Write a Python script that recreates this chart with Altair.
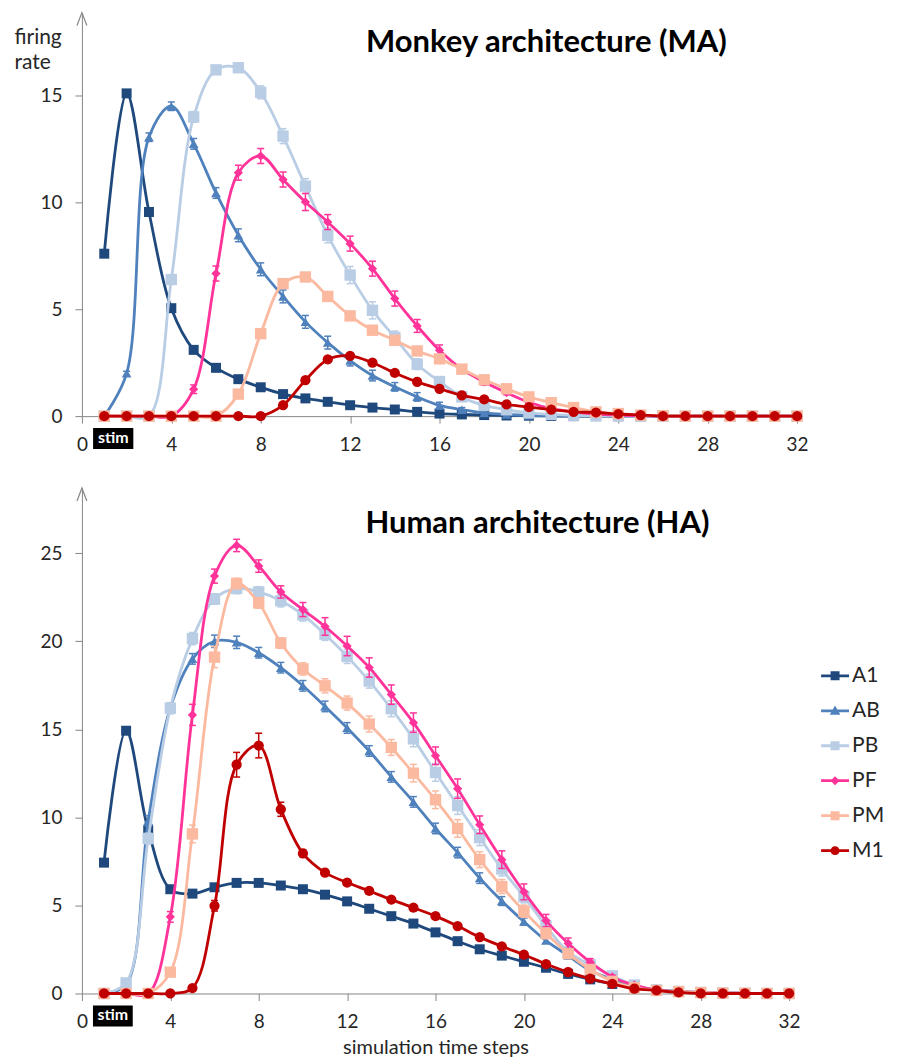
import altair as alt
import pandas as pd

# ---------------- data ----------------
steps = [1, 2, 3, 4, 5, 6, 7, 8, 9, 10, 11, 12, 13, 14, 15, 16,
         17, 18, 19, 20, 21, 22, 23, 24, 25, 26, 27, 28, 29, 30, 31, 32]
series_names = ["A1", "AB", "PB", "PF", "PM", "M1"]
series_colors = ["#1F497D", "#4F81BD", "#B9CDE5", "#FF3399", "#FBB9A0", "#C00000"]
marker_shapes = ["square", "triangle-up", "square", "diamond", "square", "circle"]
marker_sizes = [100, 95, 130, 85, 130, 105]

# Monkey architecture (MA)
ma_A1 = [7.6, 15.1, 9.55, 5.05, 3.1, 2.26, 1.73, 1.35, 1.03, 0.83, 0.67, 0.51, 0.4, 0.31, 0.2, 0.12,
         0.08, 0.05, 0.03, 0.02, 0.01, 0, 0, 0, 0, 0, 0, 0, 0, 0, 0, 0]
ma_AB = [0, 2.0, 13.05, 14.5, 12.74, 10.44, 8.46, 6.87, 5.6, 4.41, 3.44, 2.6, 1.9, 1.37, 0.9, 0.5,
         0.3, 0.15, 0.08, 0.04, 0.02, 0.01, 0, 0, 0, 0, 0, 0, 0, 0, 0, 0]
ma_PB = [0, 0, 0, 6.39, 14.0, 16.2, 16.3, 15.15, 13.1, 10.76, 8.46, 6.6, 4.95, 3.68, 2.43, 1.62,
         0.9, 0.5, 0.3, 0.15, 0.08, 0.04, 0.02, 0.01, 0, 0, 0, 0, 0, 0, 0, 0]
ma_PF = [0, 0, 0, 0, 1.26, 6.67, 11.39, 12.17, 11.07, 10.02, 9.08, 8.07, 6.9, 5.5, 4.22, 3.08,
         2.2, 1.6, 1.1, 0.65, 0.35, 0.2, 0.1, 0.05, 0.02, 0, 0, 0, 0, 0, 0, 0]
ma_PM = [0, 0, 0, 0, 0, 0, 1.03, 3.86, 6.2, 6.51, 5.6, 4.69, 4.02, 3.55, 3.05, 2.68,
         2.2, 1.7, 1.28, 0.9, 0.63, 0.4, 0.2, 0.12, 0.05, 0.02, 0, 0, 0, 0, 0, 0]
ma_M1 = [0, 0, 0, 0, 0, 0, 0, 0, 0.51, 1.68, 2.65, 2.82, 2.5, 2.02, 1.6, 1.28,
         0.97, 0.78, 0.55, 0.42, 0.3, 0.2, 0.17, 0.1, 0.05, 0, 0, 0, 0, 0, 0, 0]

ma_A1_err = [0.15, 0.15, 0.15, 0.12, 0.1, 0.1, 0.08, 0.08, 0.06, 0.06, 0.05, 0.05, 0.04, 0.04, 0.03, 0.03,
             0.02, 0.02, 0.01, 0.01, 0, 0, 0, 0, 0, 0, 0, 0, 0, 0, 0, 0]
ma_AB_err = [0, 0.1, 0.2, 0.2, 0.25, 0.25, 0.3, 0.3, 0.3, 0.3, 0.3, 0.25, 0.25, 0.2, 0.2, 0.15,
             0.1, 0.1, 0.05, 0.05, 0, 0, 0, 0, 0, 0, 0, 0, 0, 0, 0, 0]
ma_PB_err = [0, 0, 0, 0.2, 0.25, 0.2, 0.2, 0.3, 0.35, 0.35, 0.35, 0.4, 0.4, 0.3, 0.25, 0.2,
             0.15, 0.1, 0.08, 0.05, 0, 0, 0, 0, 0, 0, 0, 0, 0, 0, 0, 0]
ma_PF_err = [0, 0, 0, 0, 0.2, 0.35, 0.35, 0.35, 0.35, 0.4, 0.35, 0.35, 0.35, 0.35, 0.3, 0.25,
             0.2, 0.15, 0.1, 0.08, 0, 0, 0, 0, 0, 0, 0, 0, 0, 0, 0, 0]
ma_PM_err = [0, 0, 0, 0, 0, 0, 0.1, 0.15, 0.15, 0.15, 0.15, 0.15, 0.15, 0.15, 0.15, 0.12,
             0.1, 0.1, 0.08, 0.06, 0, 0, 0, 0, 0, 0, 0, 0, 0, 0, 0, 0]
ma_M1_err = [0, 0, 0, 0, 0, 0, 0, 0, 0.05, 0.1, 0.1, 0.1, 0.1, 0.1, 0.08, 0.08,
             0.06, 0.05, 0.04, 0.03, 0, 0, 0, 0, 0, 0, 0, 0, 0, 0, 0, 0]

# Human architecture (HA)
ha_A1 = [7.43, 14.92, 9.27, 5.92, 5.67, 6.03, 6.28, 6.28, 6.13, 5.92, 5.61, 5.23, 4.81, 4.39, 3.97, 3.47,
         2.97, 2.51, 2.15, 1.8, 1.46, 1.11, 0.8, 0.54, 0.33, 0.2, 0.12, 0.06, 0.03, 0.01, 0, 0]
ha_AB = [0, 0.5, 9.8, 16.2, 19.0, 20.0, 19.94, 19.35, 18.5, 17.47, 16.3, 15.08, 13.77, 12.3, 10.88, 9.37,
         8.0, 6.55, 5.25, 4.08, 3.0, 2.15, 1.3, 0.8, 0.38, 0.2, 0.1, 0.05, 0.02, 0.01, 0, 0]
ha_PB = [0, 0.6, 8.8, 16.2, 20.15, 22.4, 23.0, 22.8, 22.3, 21.5, 20.4, 19.14, 17.74, 16.17, 14.46, 12.55,
         10.67, 8.85, 7.07, 5.5, 3.83, 2.36, 1.63, 1.0, 0.48, 0.2, 0.12, 0.06, 0.03, 0.01, 0, 0]
ha_PF = [0, 0, 0, 4.35, 15.82, 23.7, 25.44, 24.27, 22.8, 21.8, 20.84, 19.73, 18.51, 16.97, 15.38, 13.5,
         11.63, 9.58, 7.6, 5.77, 4.14, 2.85, 1.78, 0.94, 0.48, 0.2, 0.1, 0.05, 0.02, 0.01, 0, 0]
ha_PM = [0, 0, 0, 1.21, 9.06, 19.1, 23.28, 22.18, 19.9, 18.43, 17.47, 16.49, 15.3, 13.97, 12.51, 11.0,
         9.37, 7.6, 6.07, 4.67, 3.41, 2.26, 1.36, 0.69, 0.33, 0.17, 0.1, 0.05, 0.02, 0.01, 0, 0]
ha_M1 = [0, 0, 0, 0, 0.31, 4.98, 12.99, 14.08, 10.46, 7.95, 6.86, 6.3, 5.82, 5.33, 4.87, 4.39,
         3.83, 3.2, 2.68, 2.2, 1.67, 1.21, 0.84, 0.54, 0.27, 0.17, 0.06, 0, 0, 0, 0, 0]

ha_A1_err = [0.15, 0.2, 0.2, 0.15, 0.15, 0.15, 0.15, 0.15, 0.15, 0.15, 0.15, 0.15, 0.15, 0.15, 0.12, 0.12,
             0.1, 0.1, 0.1, 0.08, 0.08, 0.06, 0.05, 0.04, 0.03, 0.02, 0.01, 0, 0, 0, 0, 0]
ha_AB_err = [0, 0.1, 0.3, 0.3, 0.3, 0.35, 0.35, 0.3, 0.3, 0.3, 0.3, 0.3, 0.3, 0.3, 0.3, 0.3,
             0.3, 0.3, 0.25, 0.2, 0.15, 0.1, 0.08, 0.05, 0.03, 0.02, 0, 0, 0, 0, 0, 0]
ha_PB_err = [0, 0.1, 0.3, 0.3, 0.35, 0.3, 0.3, 0.3, 0.35, 0.35, 0.35, 0.4, 0.4, 0.45, 0.45, 0.5,
             0.5, 0.45, 0.4, 0.35, 0.3, 0.25, 0.2, 0.1, 0.05, 0.03, 0, 0, 0, 0, 0, 0]
ha_PF_err = [0, 0, 0, 0.3, 0.6, 0.4, 0.35, 0.35, 0.35, 0.4, 0.5, 0.55, 0.55, 0.55, 0.55, 0.5,
             0.55, 0.5, 0.5, 0.45, 0.35, 0.3, 0.2, 0.1, 0.05, 0.03, 0, 0, 0, 0, 0, 0]
ha_PM_err = [0, 0, 0, 0.2, 0.5, 0.6, 0.3, 0.3, 0.3, 0.35, 0.4, 0.4, 0.45, 0.45, 0.5, 0.5,
             0.5, 0.45, 0.4, 0.35, 0.3, 0.2, 0.15, 0.1, 0.05, 0.03, 0, 0, 0, 0, 0, 0]
ha_M1_err = [0, 0, 0, 0, 0.1, 0.3, 0.7, 0.7, 0.4, 0.2, 0.15, 0.15, 0.15, 0.15, 0.1, 0.1,
             0.1, 0.1, 0.08, 0.06, 0.05, 0.04, 0.03, 0.02, 0.01, 0, 0, 0, 0, 0, 0, 0]

x_ticks = [0, 4, 8, 12, 16, 20, 24, 28, 32]
ma_y_ticks = [0, 5, 10, 15]
ha_y_ticks = [0, 5, 10, 15, 20, 25]
stim_start = [0.5]
stim_end = [2.3]
stim_label = ["stim"]

titles = ["Monkey architecture (MA)", "Human architecture (HA)"]
y_title = ["firing", "rate"]
x_title = "simulation time steps"

# legend symbols: line segment + marker (custom paths)
legend_paths = [
    "M-1,-0.1H1V0.1H-1Z M-0.32,-0.32H0.32V0.32H-0.32Z",
    "M-1,-0.1H1V0.1H-1Z M0,-0.38L0.38,0.28L-0.38,0.28Z",
    "M-1,-0.1H1V0.1H-1Z M-0.32,-0.32H0.32V0.32H-0.32Z",
    "M-1,-0.1H1V0.1H-1Z M0,-0.32L0.32,0L0,0.32L-0.32,0Z",
    "M-1,-0.1H1V0.1H-1Z M-0.32,-0.32H0.32V0.32H-0.32Z",
    "M-1,-0.1H1V0.1H-1Z M-0.32,0A0.32,0.32 0 1,1 0.32,0A0.32,0.32 0 1,1 -0.32,0Z",
]

FONT = "Lato"
AXIS_GRAY = "#868686"
TEXT = "#262626"


def panel(vals, errs, width, height, ymax, yticks, title_text, title_x, title_y,
          show_ytitle, show_xtitle, show_legend):
    xscale = alt.Scale(domain=[0, 32], nice=False, zero=False)
    yscale = alt.Scale(domain=[0, ymax], nice=False)
    layers = []

    yaxis_kw = dict(values=yticks, grid=False, domainColor=AXIS_GRAY, tickColor=AXIS_GRAY,
                    tickSize=7, labelFontSize=19, labelPadding=13, labelColor=TEXT,
                    labelFont=FONT, labelFlush=False)
    if show_ytitle:
        yaxis = alt.Axis(title=y_title, titleAngle=0, titleAlign="left",
                         titleBaseline="alphabetic", titleX=-68, titleY=31,
                         titleFontSize=21, titleFontWeight="normal", titleLineHeight=25,
                         titleColor=TEXT, titleFont=FONT, **yaxis_kw)
    else:
        yaxis = alt.Axis(title=None, **yaxis_kw)
    xaxis_kw = dict(values=x_ticks, format="d", grid=False, domainColor=AXIS_GRAY,
                    tickColor=AXIS_GRAY, tickSize=7, labelFontSize=19, labelPadding=12,
                    labelColor=TEXT, labelFont=FONT, labelFlush=False, labelOverlap=False)
    if show_xtitle:
        xaxis = alt.Axis(title=x_title, titleFontSize=20, titleFontWeight="normal",
                         titleColor=TEXT, titleFont=FONT, titlePadding=6, **xaxis_kw)
    else:
        xaxis = alt.Axis(title=None, **xaxis_kw)

    def X(field):
        return alt.X(field, scale=xscale, axis=xaxis)

    def Y(field):
        return alt.Y(field, scale=yscale, axis=yaxis)

    for i, name in enumerate(series_names):
        df = pd.DataFrame({"step": steps, "rate": vals[i], "err": errs[i]})
        df["lo"] = df["rate"] - df["err"]
        df["hi"] = df["rate"] + df["err"]
        base = alt.Chart(df)
        color = series_colors[i]
        line = base.mark_line(interpolate="catmull-rom", strokeWidth=2.8, color=color).encode(
            x=X("step:Q"), y=Y("rate:Q"))
        eb = base.transform_filter("datum.err > 0.02")
        rule = eb.mark_rule(color=color, strokeWidth=1.5).encode(
            x=X("step:Q"), y=Y("lo:Q"), y2="hi:Q")
        cap_hi = eb.mark_point(shape="stroke", size=49, strokeWidth=1.5, color=color, opacity=1).encode(
            x=X("step:Q"), y=Y("hi:Q"))
        cap_lo = eb.mark_point(shape="stroke", size=49, strokeWidth=1.5, color=color, opacity=1).encode(
            x=X("step:Q"), y=Y("lo:Q"))
        pts = base.mark_point(shape=marker_shapes[i], filled=True, size=marker_sizes[i],
                              color=color, opacity=1, strokeWidth=0).encode(
            x=X("step:Q"), y=Y("rate:Q"))
        layers += [line, rule, cap_hi, cap_lo, pts]

    # arrowhead on top of y axis
    arrow = alt.Chart(pd.DataFrame({"a": [0]})).mark_point(
        shape="M-0.38,1L0,0L0.38,1", filled=False, size=676, strokeWidth=1.2,
        color=AXIS_GRAY, opacity=1).encode(x=alt.value(0), y=alt.value(0))
    layers.append(arrow)

    # stim box
    sdf = pd.DataFrame({"start": stim_start, "end": stim_end, "label": stim_label})
    sdf["mid"] = (sdf["start"] + sdf["end"]) / 2
    srect = alt.Chart(sdf).mark_rect(color="black").encode(
        x=X("start:Q"), x2="end:Q",
        y=alt.value(height + 12), y2=alt.value(height + 33))
    stext = alt.Chart(sdf).mark_text(color="white", fontWeight="bold", fontSize=16, font=FONT,
                                     baseline="middle", align="center").encode(
        x=X("mid:Q"), y=alt.value(height + 22), text="label:N")
    layers += [srect, stext]

    # panel title
    tt = alt.Chart(pd.DataFrame({"t": [title_text]})).mark_text(
        fontSize=31, fontWeight="bold", font=FONT, color="black", align="center",
        baseline="middle").encode(x=alt.value(title_x), y=alt.value(title_y), text="t:N")
    layers.append(tt)

    if show_legend:
        ldf = pd.DataFrame({"series": series_names})
        leg = alt.Legend(title=None, orient="none", legendX=740, legendY=174,
                         labelFontSize=21, labelFont=FONT, labelColor=TEXT, symbolSize=784,
                         symbolStrokeWidth=0, labelOffset=3, rowPadding=11, padding=0,
                         symbolOpacity=1)
        legend_layer = alt.Chart(ldf).transform_filter("datum.series == 'none'").mark_point(
            filled=True, opacity=1).encode(
            color=alt.Color("series:N", scale=alt.Scale(domain=series_names, range=series_colors),
                            legend=leg),
            shape=alt.Shape("series:N", scale=alt.Scale(domain=series_names, range=legend_paths),
                            legend=leg))
        layers.append(legend_layer)

    return alt.layer(*layers).properties(width=width, height=height)


top = panel([ma_A1, ma_AB, ma_PB, ma_PF, ma_PM, ma_M1],
            [ma_A1_err, ma_AB_err, ma_PB_err, ma_PF_err, ma_PM_err, ma_M1_err],
            716, 404, 18.88, ma_y_ticks, titles[0], 465, 30, True, False, False)
bottom = panel([ha_A1, ha_AB, ha_PB, ha_PF, ha_PM, ha_M1],
               [ha_A1_err, ha_AB_err, ha_PB_err, ha_PF_err, ha_PM_err, ha_M1_err],
               708, 506, 28.7, ha_y_ticks, titles[1], 456, 36, False, True, True)

chart = alt.vconcat(top, bottom, spacing=72, bounds="flush").resolve_scale(
    x="independent", y="independent", color="independent", shape="independent"
).resolve_legend(color="independent", shape="independent").properties(
    padding={"left": 6, "top": 1, "right": 5, "bottom": 0}
).configure(font=FONT).configure_view(strokeWidth=0)

chart.save("out.html", embed_options={"renderer": "svg", "actions": False})
